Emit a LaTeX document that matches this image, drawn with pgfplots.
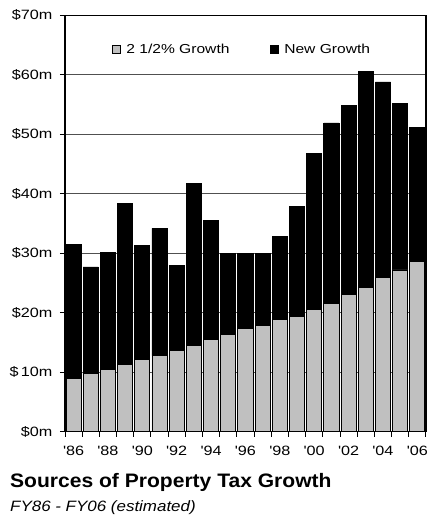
\documentclass[border=0pt]{standalone}
\usepackage{pgfplots}
\pgfplotsset{compat=1.18}
\usepackage{fontspec}
\setmainfont{Liberation Sans}
\newfontfamily\widefont[FakeStretch=1.2]{Liberation Sans}
\newfontfamily\titlefont[FakeStretch=1.08]{Liberation Sans Bold}
\newfontfamily\subfont[FakeStretch=1.13]{Liberation Sans Italic}
\definecolor{silverbar}{HTML}{C0C0C0}
\definecolor{gridgray}{HTML}{505050}

\begin{document}
\begin{tikzpicture}
\useasboundingbox (-65bp,-83.3bp) rectangle (362bp,431.8bp);
\begin{axis}[
  scale only axis,
  width=361bp, height=416.5bp,
  ybar stacked,
  bar width=0.88,
  xmin=1985.5, xmax=2006.5,
  ymin=0, ymax=70,
  axis line style={line width=1.2bp, black},
  tick align=outside,
  xtick pos=bottom, ytick pos=left,
  major tick length=5bp,
  tick style={black, line width=0.9bp},
  xtick={1985.5,1986.5,...,2006.5},
  xticklabels={},
  extra x ticks={1986,1988,...,2006},
  extra x tick labels={'86,'88,'90,'92,'94,'96,'98,'00,'02,'04,'06},
  extra x tick style={major tick length=0pt},
  xticklabel style={font=\widefont\fontsize{13.5bp}{15bp}\selectfont, yshift=-11bp},
  ytick={0,10,...,70},
  yticklabels={\$0m,\$\,10m,\$20m,\$30m,\$40m,\$50m,\$60m,\$70m},
  yticklabel style={font=\widefont\fontsize{13.5bp}{15bp}\selectfont, xshift=-4bp},
  ymajorgrids,
  grid style={gridgray, line width=0.9bp},
  legend columns=2,
  legend style={draw=none, fill=none, at={(0.49,0.917)}, anchor=center,
    font=\widefont\fontsize{13bp}{15bp}\selectfont,
    /tikz/every odd column/.append style={column sep=4bp},
    /tikz/every even column/.append style={column sep=38bp}},
  legend image code/.code={\draw[#1, line width=0.8bp] (0bp,-4bp) rectangle (8bp,4bp);},
]
% 2 1/2% growth (levy limit increase)
\addplot[fill=silverbar, draw=black, line width=0.8bp] coordinates {
  (1986,8.9) (1987,9.8) (1988,10.4) (1989,11.3) (1990,12.2) (1991,12.8)
  (1992,13.7) (1993,14.5) (1994,15.5) (1995,16.4) (1996,17.3) (1997,17.9)
  (1998,18.8) (1999,19.4) (2000,20.6) (2001,21.5) (2002,23.0) (2003,24.2)
  (2004,25.9) (2005,27.2) (2006,28.6)};
% new growth
\addplot[fill=black, draw=black, line width=0.8bp] coordinates {
  (1986,22.6) (1987,17.9) (1988,19.7) (1989,27.1) (1990,19.1) (1991,21.4)
  (1992,14.3) (1993,27.2) (1994,20.0) (1995,13.5) (1996,12.6) (1997,12.0)
  (1998,14.0) (1999,18.5) (2000,26.2) (2001,30.4) (2002,31.9) (2003,36.4)
  (2004,32.9) (2005,28.0) (2006,22.5)};
\legend{2 1/2\% Growth, New Growth}
\end{axis}
\node[anchor=base west, inner sep=0pt, font=\titlefont\fontsize{19.5bp}{22bp}\selectfont]
  at (-55bp,-55.3bp) {Sources of Property Tax Growth};
\node[anchor=base west, inner sep=0pt, font=\subfont\fontsize{15bp}{18bp}\selectfont]
  at (-55bp,-79.7bp) {FY86 - FY06 (estimated)};
\end{tikzpicture}
\end{document}
